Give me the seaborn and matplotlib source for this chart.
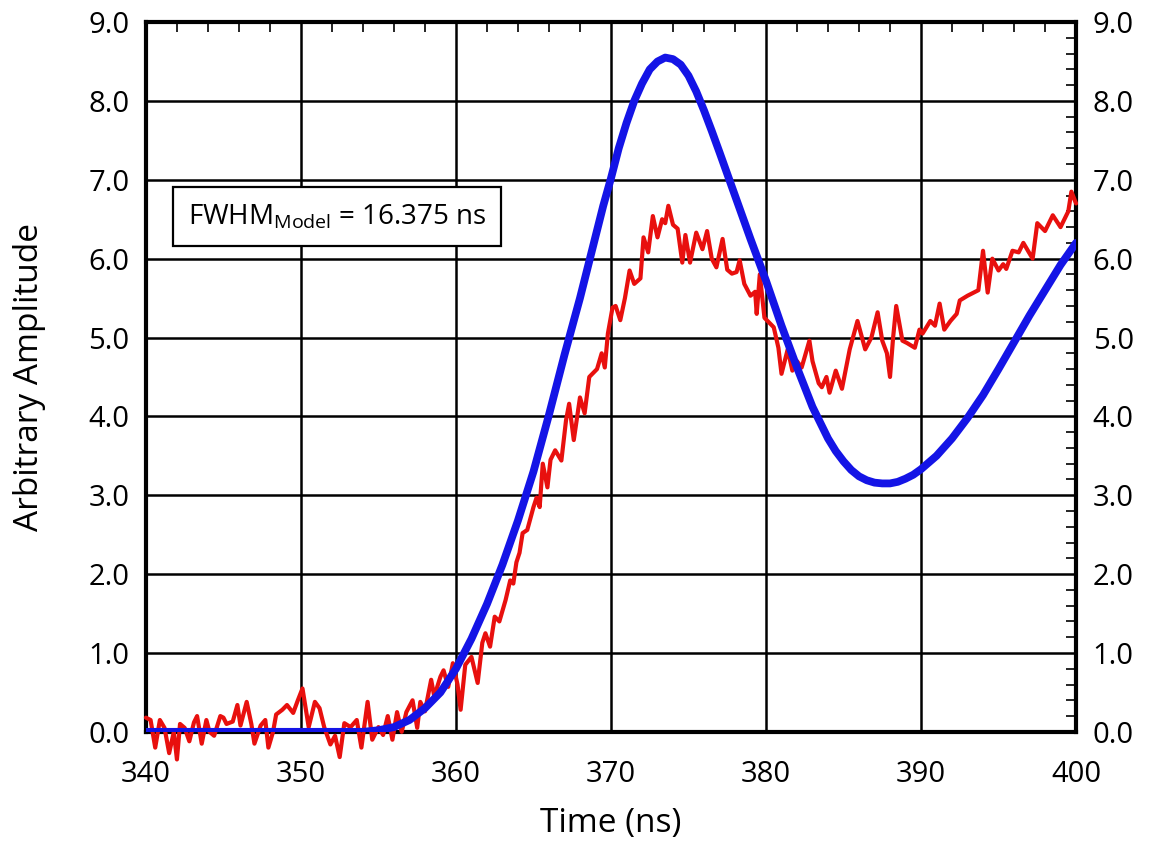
import matplotlib
matplotlib.use("Agg")
import matplotlib.pyplot as plt
from matplotlib.ticker import MultipleLocator
import seaborn as sns
import numpy as np

t_meas = [340.0, 340.3, 340.6, 340.9, 341.2, 341.5, 341.8, 342.0, 342.2, 342.5,
          342.8, 343.1, 343.3, 343.6, 343.9, 344.1, 344.4, 344.8, 345.0, 345.2,
          345.6, 345.9, 346.1, 346.5, 346.8, 347.0, 347.4, 347.7, 347.9, 348.2,
          348.4, 348.8, 349.1, 349.5, 349.8, 350.1, 350.5, 350.9, 351.2, 351.5,
          351.9, 352.2, 352.5, 352.8, 353.2, 353.6, 353.9, 354.3, 354.6, 355.0,
          355.3, 355.6, 355.9, 356.2, 356.5, 356.8, 357.2, 357.5, 357.7, 358.0,
          358.4, 358.6, 359.0, 359.2, 359.5, 359.8, 360.1, 360.3, 360.6, 361.0,
          361.4, 361.7, 361.9, 362.2, 362.5, 362.8, 363.2, 363.5, 363.7, 363.9,
          364.1, 364.3, 364.6, 365.0, 365.2, 365.4, 365.6, 365.9, 366.1, 366.4,
          366.8, 367.1, 367.3, 367.6, 368.0, 368.3, 368.6, 369.1, 369.4, 369.6,
          369.8, 370.1, 370.3, 370.6, 370.9, 371.2, 371.5, 371.9, 372.1, 372.4,
          372.7, 373.0, 373.3, 373.5, 373.7, 374.0, 374.3, 374.6, 374.8, 375.1,
          375.5, 375.9, 376.2, 376.5, 376.8, 377.2, 377.5, 377.8, 378.1, 378.3,
          378.6, 379.0, 379.3, 379.4, 379.6, 379.9, 380.1, 380.5, 380.8, 381.0,
          381.4, 381.7, 382.0, 382.3, 382.8, 383.0, 383.4, 383.6, 383.9, 384.1,
          384.5, 384.9, 385.4, 385.9, 386.4, 386.8, 387.2, 387.5, 387.8, 388.0,
          388.2, 388.4, 388.8, 389.1, 389.6, 389.9, 390.1, 390.6, 390.9, 391.2,
          391.5, 391.9, 392.3, 392.5, 393.0, 393.4, 393.7, 394.0, 394.3, 394.6,
          395.0, 395.3, 395.5, 395.9, 396.3, 396.6, 397.2, 397.5, 398.0, 398.5,
          399.0, 399.5, 399.7, 400.0]
amp_meas = [0.18, 0.15, -0.20, 0.15, 0.05, -0.27, 0.00, -0.35, 0.10, 0.05,
            -0.12, 0.12, 0.20, -0.15, 0.15, 0.00, -0.05, 0.20, 0.18, 0.10,
            0.13, 0.34, 0.08, 0.38, 0.10, -0.15, 0.08, 0.15, -0.20, 0.00,
            0.22, 0.28, 0.34, 0.24, 0.40, 0.55, 0.06, 0.38, 0.30, 0.06,
            -0.16, -0.05, -0.32, 0.11, 0.06, 0.15, -0.20, 0.38, -0.10, 0.06,
            -0.04, 0.20, -0.10, 0.25, 0.00, 0.25, 0.40, 0.05, 0.38, 0.26,
            0.66, 0.45, 0.70, 0.78, 0.57, 0.87, 0.60, 0.28, 0.85, 0.95,
            0.62, 1.13, 1.25, 1.08, 1.46, 1.40, 1.67, 1.92, 1.88, 2.15,
            2.27, 2.52, 2.56, 2.85, 2.97, 2.85, 3.40, 3.10, 3.45, 3.57,
            3.44, 3.95, 4.16, 3.70, 4.24, 4.04, 4.50, 4.60, 4.80, 4.62,
            5.05, 5.38, 5.40, 5.22, 5.50, 5.85, 5.68, 5.75, 6.27, 6.08,
            6.54, 6.27, 6.50, 6.45, 6.67, 6.43, 6.38, 5.95, 6.30, 5.95,
            6.33, 6.12, 6.35, 6.00, 5.89, 6.25, 5.86, 5.81, 5.83, 5.98,
            5.68, 5.53, 5.58, 5.30, 5.80, 5.25, 5.21, 5.13, 4.87, 4.54,
            4.85, 4.58, 4.70, 4.62, 4.96, 4.70, 4.42, 4.37, 4.50, 4.30,
            4.58, 4.35, 4.85, 5.21, 4.85, 5.00, 5.32, 4.96, 4.80, 4.50,
            5.00, 5.40, 4.96, 4.93, 4.87, 5.10, 5.05, 5.21, 5.15, 5.43,
            5.10, 5.21, 5.30, 5.47, 5.53, 5.57, 5.60, 6.10, 5.57, 6.00,
            5.85, 5.93, 5.87, 6.10, 6.08, 6.20, 6.00, 6.45, 6.35, 6.55,
            6.40, 6.60, 6.85, 6.70]

# model curve (blue)
t_model = [340, 345, 350, 354, 355, 356, 357, 358, 359, 360, 361, 362, 363,
           364, 365, 366, 367, 368, 369, 369.5, 370, 370.5, 371, 371.5, 372,
           372.5, 373, 373.5, 374, 374.5, 375, 375.5, 376, 376.5, 377, 378,
           379, 380, 381, 382, 383, 384, 384.5, 385, 385.5, 386, 386.5, 387,
           387.5, 388, 388.5, 389, 389.5, 390, 391, 392, 393, 394, 395, 396,
           397, 398, 399, 400]
amp_model = [0.0, 0.0, 0.0, 0.0, 0.02, 0.06, 0.15, 0.30, 0.50, 0.80, 1.18,
             1.62, 2.12, 2.68, 3.30, 4.02, 4.78, 5.50, 6.28, 6.67, 7.02,
             7.40, 7.72, 8.00, 8.22, 8.40, 8.50, 8.55, 8.53, 8.46, 8.32,
             8.12, 7.88, 7.62, 7.35, 6.80, 6.25, 5.72, 5.15, 4.62, 4.12,
             3.72, 3.56, 3.43, 3.32, 3.24, 3.19, 3.16, 3.15, 3.15, 3.17,
             3.21, 3.26, 3.33, 3.50, 3.72, 3.98, 4.27, 4.60, 4.94, 5.28,
             5.60, 5.92, 6.20]

x_ticks = [340, 350, 360, 370, 380, 390, 400]
y_ticks = [0, 1, 2, 3, 4, 5, 6, 7, 8, 9]
fwhm_label = r"FWHM$_{\mathregular{Model}}$ = 16.375 ns"

sns.set_style("white")
plt.rcParams['font.family'] = ['Open Sans', 'DejaVu Sans']
plt.rcParams['mathtext.fontset'] = 'custom'
plt.rcParams['mathtext.rm'] = 'Open Sans'
for key in ['text.color', 'axes.labelcolor', 'xtick.color', 'ytick.color']:
    plt.rcParams[key] = 'black'

fig = plt.figure(figsize=(11.49, 8.49), dpi=100)
ax = fig.add_axes([0.127, 0.138, 0.8095, 0.836])

# red trace may dip below zero, drawn past the axis like the original
sns.lineplot(x=t_meas, y=amp_meas, ax=ax, color='#e8100e', lw=3.0,
             sort=False, estimator=None, zorder=3)
ax.lines[-1].set_clip_on(False)
sns.lineplot(x=t_model, y=amp_model, ax=ax, color='#1414e6', lw=5.6,
             sort=False, estimator=None, zorder=4)

ax.set_xlim(340, 400)
ax.set_ylim(0, 9)
ax.set_xticks(x_ticks)
ax.set_yticks(y_ticks)
ax.set_yticklabels([f"{v:.1f}" for v in y_ticks])
ax.xaxis.set_minor_locator(MultipleLocator(2))
ax.yaxis.set_minor_locator(MultipleLocator(0.2))
ax.grid(True, which='major', color='black', lw=1.8)
ax.tick_params(which='both', direction='in', top=True, right=True,
               labelright=True, labelsize=21, color='black')
ax.tick_params(which='major', length=0, pad=12)
ax.tick_params(axis='x', which='major', pad=20)
ax.tick_params(which='minor', length=7, width=1.2)
for s in ax.spines.values():
    s.set_color('black')
    s.set_linewidth(3)

ax.set_xlabel('Time (ns)', fontsize=24, labelpad=13)
ax.set_ylabel('Arbitrary Amplitude', fontsize=24, labelpad=30)

ax.text(0.045, 0.726, fwhm_label, transform=ax.transAxes, fontsize=20,
        va='center', ha='left', zorder=5,
        bbox=dict(boxstyle='square,pad=0.55', fc='white', ec='black', lw=1.6))

fig.savefig('out.png', dpi=100)
